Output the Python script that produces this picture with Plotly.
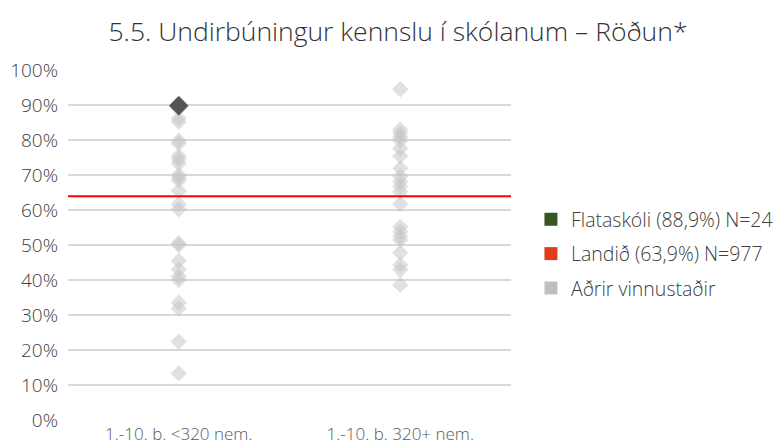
import plotly.graph_objects as go

# -----------------------------
# Data
# -----------------------------
CATEGORIES = ["1.-10. b. <320 nem.", "1.-10. b. 320+ nem."]

OTHERS_SMALL = [100.5, 90.5, 89, 86.2, 85.2, 79.8, 79, 75.4, 74.5, 73.3, 70, 69.3, 68.4,
                65.5, 61.7, 60.2, 50.5, 50, 45.5, 43, 41, 40, 33.5, 31.9, 22.4, 13.3]
OTHERS_LARGE = [94.5, 83, 81.9, 80.8, 79.8, 77.6, 75.4, 71.9, 69.5, 68.1, 66.7, 65.2,
                61.7, 55.2, 53.8, 52.4, 51.4, 47.8, 44.3, 42.9, 38.6]

SCHOOL_CAT = CATEGORIES[0]
SCHOOL_VALUE = 89.8
LANDID_VALUE = 63.9

LEGEND_NAMES = ["Flataskóli (88,9%) N=24", "Landið (63,9%) N=977", "Aðrir vinnustaðir"]
LEGEND_COLORS = ["#375623", "#e03c1e", "#bfbfbf"]

Y_TICKS = list(range(0, 101, 10))

FONT = "Open Sans"
TEXT_COLOR = "#404040"

fig = go.Figure()

# other workplaces, light grey diamonds
for cat, vals in zip(CATEGORIES, [OTHERS_SMALL, OTHERS_LARGE]):
    fig.add_trace(go.Scatter(
        x=[cat] * len(vals), y=vals, mode="markers",
        marker=dict(symbol="diamond", size=12.5, color="rgba(195,195,195,0.5)",
                    line=dict(width=0)),
        showlegend=False, hoverinfo="skip", cliponaxis=False,
    ))

# the school itself
fig.add_trace(go.Scatter(
    x=[SCHOOL_CAT], y=[SCHOOL_VALUE], mode="markers",
    marker=dict(symbol="diamond", size=15, color="#555555", line=dict(width=0)),
    showlegend=False, hoverinfo="skip", cliponaxis=False,
))

# national average line
fig.add_hline(y=LANDID_VALUE, line=dict(color="#ff0000", width=2), layer="above")

# legend-only entries (square swatches)
for i, (name, col) in enumerate(zip(LEGEND_NAMES, LEGEND_COLORS)):
    fig.add_trace(go.Scatter(
        x=[None], y=[None], mode="markers", name=name,
        marker=dict(symbol="square", size=13, color=col),
        legendgroup=f"g{i}",
    ))

# note: page body adds an 8px offset, margins compensate for it
fig.update_layout(
    width=782, height=444,
    paper_bgcolor="white", plot_bgcolor="white",
    margin=dict(l=60, r=279, t=62, b=32),
    font=dict(family=FONT, color=TEXT_COLOR, weight=300),
    title=dict(text="5.5. Undirbúningur kennslu í skólanum – Röðun*",
               x=0.4987, xanchor="center", y=0.946, yanchor="middle",
               font=dict(size=26.5, color="#333333", family=FONT, weight=300)),
    legend=dict(x=1.045, xanchor="left", y=0.474, yanchor="middle",
                font=dict(size=19.5, color=TEXT_COLOR, family=FONT, weight=300),
                tracegroupgap=6, traceorder="grouped",
                itemwidth=30),
    showlegend=True,
)

fig.update_xaxes(
    type="category", categoryorder="array", categoryarray=CATEGORIES,
    range=[-0.5, 1.5], showgrid=False, zeroline=False, showline=False,
    ticks="", ticklabelstandoff=2,
    tickfont=dict(size=17, color="#595959"), automargin=False,
)
fig.update_yaxes(
    range=[0, 100], tickvals=Y_TICKS, ticktext=[f"{v}%" for v in Y_TICKS],
    showgrid=True, gridcolor="#d9d9d9", gridwidth=1.5, zeroline=False,
    showline=False, ticks="", ticklabelstandoff=9,
    tickfont=dict(size=19, color=TEXT_COLOR), automargin=False,
)

fig.write_html("out.html")
